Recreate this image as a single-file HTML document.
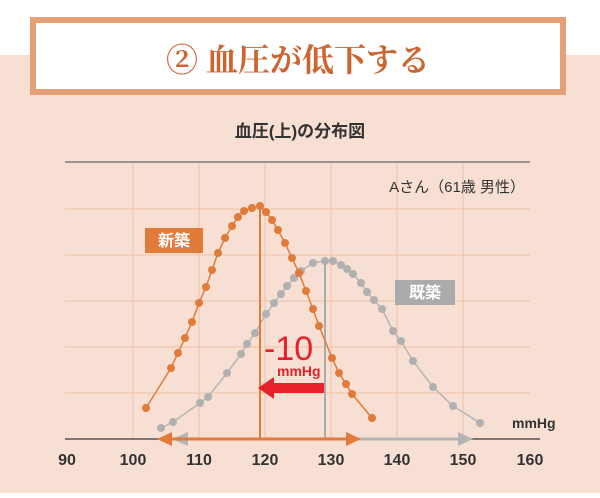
<!DOCTYPE html><html><head><meta charset="utf-8"><style>
body{margin:0;width:600px;height:493px;overflow:hidden;background:#fff;font-family:"Liberation Sans","Noto Sans CJK JP",sans-serif}
</style></head><body>
<svg width="600" height="493" xmlns="http://www.w3.org/2000/svg" font-family="Liberation Sans, Noto Sans CJK JP, sans-serif">
<rect x="0" y="55" width="600" height="438" fill="#f7dfd3"/>
<rect x="33" y="20" width="530" height="72" fill="#fff" stroke="#e6a077" stroke-width="6"/>
<text x="298" y="71" text-anchor="middle" font-size="32" fill="#cc6630" font-weight="bold" font-family="Noto Serif CJK SC, serif">② 血圧が低下する</text>
<text x="300" y="137" text-anchor="middle" font-size="17" fill="#333" font-weight="bold">血圧(上)の分布図</text>
<g stroke="#efc2a6" stroke-width="1">
<line x1="133" y1="162" x2="133" y2="439"/><line x1="199" y1="162" x2="199" y2="439"/><line x1="265" y1="162" x2="265" y2="439"/><line x1="331" y1="162" x2="331" y2="439"/><line x1="397" y1="162" x2="397" y2="439"/><line x1="463" y1="162" x2="463" y2="439"/>
<line x1="65" y1="209" x2="530" y2="209"/><line x1="65" y1="255" x2="530" y2="255"/><line x1="65" y1="301" x2="530" y2="301"/><line x1="65" y1="347" x2="530" y2="347"/><line x1="65" y1="393" x2="530" y2="393"/>
</g>
<line x1="65" y1="162" x2="530" y2="162" stroke="#666" stroke-width="1.2"/>
<line x1="65" y1="439" x2="540" y2="439" stroke="#555" stroke-width="1.5"/>
<text x="525" y="192" text-anchor="end" font-size="15" fill="#333">Aさん（61歳 男性）</text>
<text x="512" y="428" font-size="14" fill="#333" font-weight="bold">mmHg</text>
<g font-size="16" fill="#333" font-weight="bold" text-anchor="middle">
<text x="67" y="465">90</text><text x="133" y="465">100</text><text x="199" y="465">110</text><text x="265" y="465">120</text><text x="331" y="465">130</text><text x="397" y="465">140</text><text x="463" y="465">150</text><text x="530" y="465">160</text></g>
<polyline fill="none" stroke="#b5b5b5" stroke-width="1.5" points="161,428 173,422 200,403 208,397 227,373 241,354 247,344 255,333 266,314 274,303 281,294 287,286 294,278 301,271 313,263 325,261 333,261 341,265 347,269 353,274 361,283 367,292 374,300 382,309 393,331 401,341 413,361 433,387 453,406 480,423"/>
<g fill="#b0b0b0">
<circle cx="161" cy="428" r="4"/><circle cx="173" cy="422" r="4"/><circle cx="200" cy="403" r="4"/><circle cx="208" cy="397" r="4"/><circle cx="227" cy="373" r="4"/><circle cx="241" cy="354" r="4"/><circle cx="247" cy="344" r="4"/><circle cx="255" cy="333" r="4"/><circle cx="266" cy="314" r="4"/><circle cx="274" cy="303" r="4"/><circle cx="281" cy="294" r="4"/><circle cx="287" cy="286" r="4"/><circle cx="294" cy="278" r="4"/><circle cx="301" cy="271" r="4"/><circle cx="313" cy="263" r="4"/><circle cx="325" cy="261" r="4"/><circle cx="333" cy="261" r="4"/><circle cx="341" cy="265" r="4"/><circle cx="347" cy="269" r="4"/><circle cx="353" cy="274" r="4"/><circle cx="361" cy="283" r="4"/><circle cx="367" cy="292" r="4"/><circle cx="374" cy="300" r="4"/><circle cx="382" cy="309" r="4"/><circle cx="393" cy="331" r="4"/><circle cx="401" cy="341" r="4"/><circle cx="413" cy="361" r="4"/><circle cx="433" cy="387" r="4"/><circle cx="453" cy="406" r="4"/><circle cx="480" cy="423" r="4"/></g>
<line x1="325" y1="261" x2="325" y2="439" stroke="#aaa" stroke-width="2"/>
<polyline fill="none" stroke="#e07b39" stroke-width="1.5" points="146,408 171,368 178,353 185,338 192,322 199,303 206,287 212,270 218,253 225,238 232,226 238,217 244,211 252,208 260,206 266,212 272,220 278,230 285,243 292,258 299,273 306,291 313,309 319,326 332,358 339,373 346,384 352,394 372,418"/>
<g fill="#e07b39">
<circle cx="146" cy="408" r="4"/><circle cx="171" cy="368" r="4"/><circle cx="178" cy="353" r="4"/><circle cx="185" cy="338" r="4"/><circle cx="192" cy="322" r="4"/><circle cx="199" cy="303" r="4"/><circle cx="206" cy="287" r="4"/><circle cx="212" cy="270" r="4"/><circle cx="218" cy="253" r="4"/><circle cx="225" cy="238" r="4"/><circle cx="232" cy="226" r="4"/><circle cx="238" cy="217" r="4"/><circle cx="244" cy="211" r="4"/><circle cx="252" cy="208" r="4"/><circle cx="260" cy="206" r="4"/><circle cx="266" cy="212" r="4"/><circle cx="272" cy="220" r="4"/><circle cx="278" cy="230" r="4"/><circle cx="285" cy="243" r="4"/><circle cx="292" cy="258" r="4"/><circle cx="299" cy="273" r="4"/><circle cx="306" cy="291" r="4"/><circle cx="313" cy="309" r="4"/><circle cx="319" cy="326" r="4"/><circle cx="332" cy="358" r="4"/><circle cx="339" cy="373" r="4"/><circle cx="346" cy="384" r="4"/><circle cx="352" cy="394" r="4"/><circle cx="372" cy="418" r="4"/></g>
<line x1="260" y1="206" x2="260" y2="439" stroke="#e07b39" stroke-width="2"/>
<line x1="180" y1="439" x2="462" y2="439" stroke="#b5b5b5" stroke-width="3"/>
<polygon points="172,439 188,432 188,446" fill="#b5b5b5"/><polygon points="473,439 458,432 458,446" fill="#b5b5b5"/>
<line x1="165" y1="439" x2="350" y2="439" stroke="#e07b39" stroke-width="3"/>
<polygon points="157,439 172,432 172,446" fill="#e07b39"/><polygon points="361,439 346,432 346,446" fill="#e07b39"/>
<rect x="272" y="383" width="52" height="10" fill="#e8202a"/>
<polygon points="258,388 274,377 274,399" fill="#e8202a"/>
<text x="264" y="360" font-size="34" fill="#e8202a">-10</text>
<text x="277" y="376" font-size="14" fill="#e8202a" font-weight="bold">mmHg</text>
<rect x="145" y="228" width="58" height="25" fill="#e07b39"/>
<text x="174" y="246" text-anchor="middle" font-size="16" font-weight="bold" fill="#fff">新築</text>
<rect x="395" y="280" width="60" height="25" fill="#ababab"/>
<text x="425" y="298" text-anchor="middle" font-size="16" font-weight="bold" fill="#fff">既築</text>
</svg>
</body></html>
